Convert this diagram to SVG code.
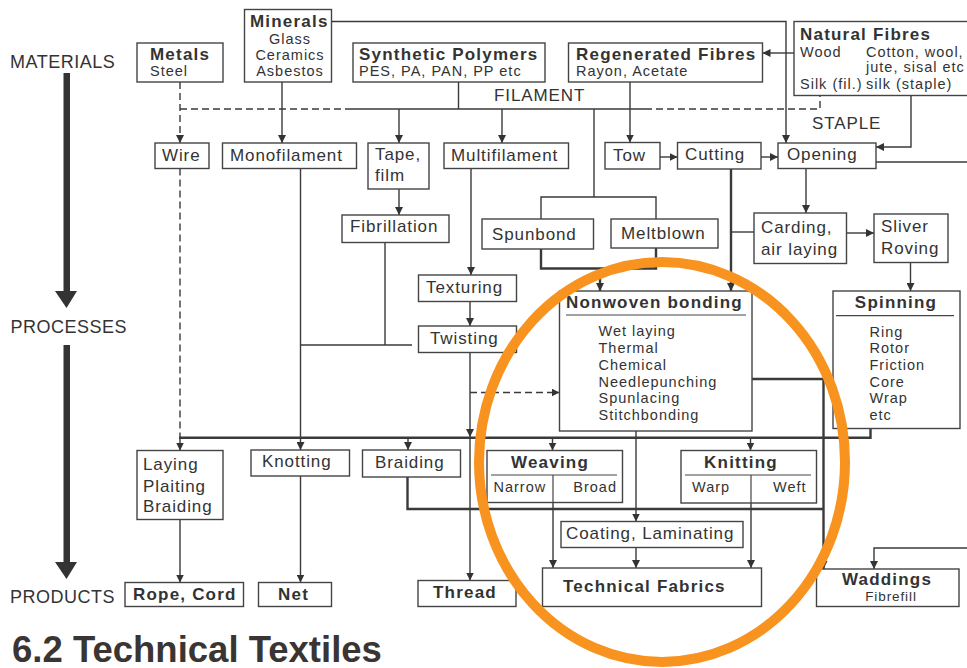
<svg xmlns="http://www.w3.org/2000/svg" width="967" height="668" viewBox="0 0 967 668">
<style>
text{font-family:"Liberation Sans",Arial,sans-serif;fill:#333}
.t{font-size:17px;letter-spacing:0.9px}
.b{font-size:17px;font-weight:bold;letter-spacing:1.2px}
.s{font-size:14.5px;letter-spacing:1px}
.h{font-size:18px;letter-spacing:0.5px}
.m{text-anchor:middle}
.e{text-anchor:end}
rect{fill:#fff;stroke:#444;stroke-width:1.4}
.c path{fill:none;stroke:#3a3a3a;stroke-width:1.4}
.c .k{stroke-width:2.4}
.c .d{stroke-dasharray:7 4}
.a{marker-end:url(#ah)}
.u{stroke:#444;stroke-width:1.2}
</style>
<defs>
<marker id="ah" viewBox="0 0 10 10" refX="10" refY="5" markerWidth="8" markerHeight="8" markerUnits="userSpaceOnUse" orient="auto">
<path d="M0,0 L10,5 L0,10 z" fill="#333"/>
</marker>
</defs>
<rect width="967" height="668" style="fill:#fff;stroke:none"/>

<g id="axis">
<text class="h" x="10" y="68">MATERIALS</text>
<text class="h" x="10.5" y="333">PROCESSES</text>
<text class="h" x="10" y="603">PRODUCTS</text>
<rect x="63.5" y="73" width="6.5" height="219" style="fill:#333;stroke:none"/>
<path d="M55,291 L77,291 L66.5,308 z" fill="#333"/>
<rect x="63.5" y="345" width="6.5" height="218" style="fill:#333;stroke:none"/>
<path d="M55,562 L77,562 L66.5,579 z" fill="#333"/>
</g>

<g class="c" id="connectors">
<path class="a" d="M331,21.5 H786 V143"/>
<path class="a" d="M282,82 V143"/>
<path class="a d" d="M180,82 V143"/>
<path class="d" d="M180,109 H345"/>
<path class="d" d="M645,109 H820 V96"/>
<path d="M345,109 H645"/>
<path d="M458.5,82 V109"/>
<path class="a" d="M399,109 V143"/>
<path class="a" d="M502,109 V143"/>
<path d="M594,109 V197"/>
<path d="M541,219 V197 H656 V219"/>
<path class="a" d="M630,82 V142.5"/>
<path class="a" d="M794,53 H762.5"/>
<path class="a" d="M911,96 V147 H876"/>
<path d="M876,162 H967"/>
<path class="a" d="M660,157 H677.5"/>
<path class="a" d="M761,157 H778"/>
<path class="a" d="M806,168.5 V213"/>
<path class="a" d="M846.5,233 H874"/>
<path class="a" d="M910.5,262.5 V291"/>
<path class="a k" d="M731,169 V291"/>
<path d="M731,232 H754"/>
<path class="k" d="M541,249 V268.5 H656 V248"/>
<path class="a k" d="M600,268.5 V291"/>
<path class="a" d="M399,189 V215"/>
<path d="M385,242.5 V345"/>
<path d="M300.5,345 H412"/>
<path class="d" d="M180,168.5 V437.7"/>
<path class="a" d="M180,437.7 V450.5"/>
<path class="a" d="M300.5,168.5 V450"/>
<path class="a" d="M471,168.5 V275"/>
<path class="a" d="M470,301.5 V326"/>
<path class="a" d="M470,352.5 V437"/>
<path class="a" d="M470,437.7 V580.5"/>
<path class="a d" d="M470,392.5 H559.5"/>
<path class="k" d="M179,437.7 H870.5 V428.5"/>
<path class="a" d="M408,437.7 V450"/>
<path class="a" d="M552.5,437.7 V450.5"/>
<path class="a" d="M750.5,437.7 V450.5"/>
<path class="a" d="M636,431 V521.5"/>
<path class="a" d="M636,547.5 V568"/>
<path class="a" d="M553,475 V568"/>
<path class="a" d="M751,475 V568"/>
<path class="a k" d="M752,379 H823.5 V569"/>
<path class="k" d="M407.5,477 V509 H823.5"/>
<path class="a" d="M180,519.5 V582.5"/>
<path class="a" d="M300.5,476 V582.5"/>
<path class="a" d="M967,548 H874 V569"/>
</g>

<g id="metals"><rect x="137" y="43" width="86" height="39"/><text class="b" x="150" y="60">Metals</text><text class="s" x="150" y="76">Steel</text></g>
<g id="minerals"><rect x="244.5" y="9.5" width="87" height="72.5"/><text class="b" x="250" y="27">Minerals</text><text class="s m" x="290" y="43.5">Glass</text><text class="s m" x="290" y="60">Ceramics</text><text class="s m" x="290" y="76">Asbestos</text></g>
<g id="synthetic"><rect x="353" y="43" width="192" height="39"/><text class="b" x="359" y="60">Synthetic Polymers</text><text class="s" x="359" y="76">PES, PA, PAN, PP etc</text></g>
<g id="regenerated"><rect x="568.5" y="43" width="194" height="39"/><text class="b" x="576" y="60">Regenerated Fibres</text><text class="s" x="576" y="76">Rayon, Acetate</text></g>
<g id="natural"><rect x="794" y="21.5" width="180" height="74"/><text class="b" x="800" y="40">Natural Fibres</text><text class="s" x="800" y="57">Wood</text><text class="s" x="866" y="57">Cotton, wool,</text><text class="s" x="866" y="72">jute, sisal etc</text><text class="s" x="800" y="88.5">Silk (fil.)</text><text class="s" x="866" y="88.5">silk (staple)</text></g>
<g id="labels"><text class="t" x="494" y="101">FILAMENT</text><text class="t" x="812" y="128.5">STAPLE</text></g>

<g id="wire"><rect x="155" y="143" width="54" height="25.5"/><text class="t" x="162" y="161">Wire</text></g>
<g id="monofilament"><rect x="222.5" y="143" width="134" height="25.5"/><text class="t" x="230" y="161">Monofilament</text></g>
<g id="tape"><rect x="368" y="143" width="61" height="46"/><text class="t" x="375" y="160">Tape,</text><text class="t" x="375" y="181">film</text></g>
<g id="multifilament"><rect x="444" y="143" width="124.5" height="25.5"/><text class="t" x="451" y="161">Multifilament</text></g>
<g id="tow"><rect x="605" y="142.5" width="55" height="26.5"/><text class="t" x="613" y="161">Tow</text></g>
<g id="cutting"><rect x="677.5" y="142.5" width="83.5" height="26.5"/><text class="t" x="685" y="160">Cutting</text></g>
<g id="opening"><rect x="778" y="143" width="98" height="25.5"/><text class="t" x="787" y="160">Opening</text></g>
<g id="fibrillation"><rect x="342" y="215" width="107" height="27.5"/><text class="t" x="350" y="232">Fibrillation</text></g>
<g id="spunbond"><rect x="482" y="219" width="111.5" height="30"/><text class="t" x="492" y="239.5">Spunbond</text></g>
<g id="meltblown"><rect x="611" y="219" width="107" height="29"/><text class="t" x="621" y="238.5">Meltblown</text></g>
<g id="carding"><rect x="754" y="213" width="92.5" height="50.5"/><text class="t" x="761" y="233">Carding,</text><text class="t" x="761" y="255">air laying</text></g>
<g id="sliver"><rect x="874" y="214" width="74" height="48.5"/><text class="t" x="881" y="232">Sliver</text><text class="t" x="881" y="254">Roving</text></g>
<g id="texturing"><rect x="418.5" y="275" width="98" height="26.5"/><text class="t" x="426" y="293">Texturing</text></g>
<g id="twisting"><rect x="418.5" y="326" width="98" height="26.5"/><text class="t" x="430" y="344">Twisting</text></g>
<g id="nonwoven"><rect x="559.5" y="291" width="192.5" height="140"/><text class="b" x="566" y="307.5">Nonwoven bonding</text><path class="u" d="M566,315 H746"/>
<text class="s" x="598.5" y="336">Wet laying</text><text class="s" x="598.5" y="353">Thermal</text><text class="s" x="598.5" y="370">Chemical</text><text class="s" x="598.5" y="387">Needlepunching</text><text class="s" x="598.5" y="403">Spunlacing</text><text class="s" x="598.5" y="420">Stitchbonding</text></g>
<g id="spinning"><rect x="833" y="291" width="127" height="137.5"/><text class="b m" x="896" y="308">Spinning</text><path class="u" d="M836,315.7 H954"/>
<text class="s" x="869.5" y="336.5">Ring</text><text class="s" x="869.5" y="353">Rotor</text><text class="s" x="869.5" y="370">Friction</text><text class="s" x="869.5" y="387">Core</text><text class="s" x="869.5" y="403">Wrap</text><text class="s" x="869.5" y="420">etc</text></g>
<g id="laying"><rect x="137" y="450.5" width="86" height="69"/><text class="t" x="143" y="470">Laying</text><text class="t" x="143" y="491.5">Plaiting</text><text class="t" x="143" y="512">Braiding</text></g>
<g id="knotting"><rect x="251" y="450" width="98.5" height="26"/><text class="t" x="262" y="467">Knotting</text></g>
<g id="braiding"><rect x="362.5" y="450" width="98" height="27"/><text class="t" x="375" y="468">Braiding</text></g>
<g id="weaving"><rect x="487" y="450.5" width="135.5" height="52"/><text class="b m" x="550" y="468">Weaving</text><path class="u" d="M491,475 H617"/><text class="s" x="493.5" y="491.5">Narrow</text><text class="s e" x="617" y="491.5">Broad</text><path class="u" d="M553,475 V502.5"/></g>
<g id="knitting"><rect x="681" y="450.5" width="135.5" height="52.5"/><text class="b m" x="741" y="468">Knitting</text><path class="u" d="M685,475 H811"/><text class="s" x="692" y="491.5">Warp</text><text class="s e" x="806.5" y="491.5">Weft</text><path class="u" d="M751,475 V503"/></g>
<g id="coating"><rect x="561" y="521.5" width="182" height="26"/><text class="t" x="566" y="539">Coating, Laminating</text></g>
<g id="technical"><rect x="542.5" y="568" width="219" height="38.5"/><text class="b" x="563" y="592">Technical Fabrics</text></g>
<g id="waddings"><rect x="816.5" y="569" width="142.5" height="37.5"/><text class="b m" x="887" y="585">Waddings</text><text class="m" x="891" y="600.5" style="font-size:13.5px;letter-spacing:0.9px">Fibrefill</text></g>
<g id="rope"><rect x="125" y="582.5" width="118.5" height="24"/><text class="b" x="133" y="600">Rope, Cord</text></g>
<g id="net"><rect x="258.5" y="582.5" width="73" height="24"/><text class="b" x="278" y="600">Net</text></g>
<g id="thread"><rect x="418" y="580.5" width="98" height="26"/><text class="b" x="433" y="598">Thread</text></g>

<ellipse id="highlight" cx="662" cy="462" rx="183" ry="200" fill="none" stroke="#F7931E" stroke-width="10"/>
<text x="12" y="662" style="font-size:36.5px;font-weight:bold;fill:#3a3533">6.2 Technical Textiles</text>
</svg>
